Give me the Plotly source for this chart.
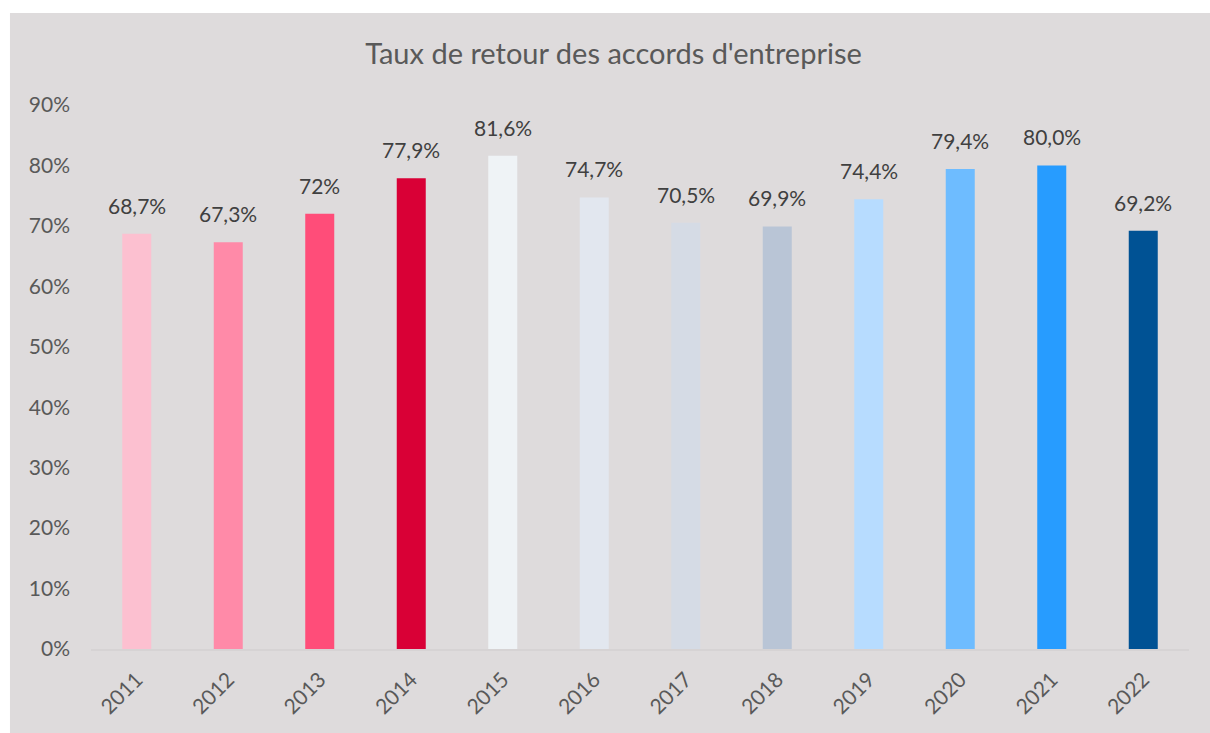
import plotly.graph_objects as go

years = ["2011", "2012", "2013", "2014", "2015", "2016", "2017", "2018", "2019", "2020", "2021", "2022"]
rates = [0.687, 0.673, 0.72, 0.779, 0.816, 0.747, 0.705, 0.699, 0.744, 0.794, 0.800, 0.692]
labels = ["68,7%", "67,3%", "72%", "77,9%", "81,6%", "74,7%", "70,5%", "69,9%", "74,4%", "79,4%", "80,0%", "69,2%"]
colors = ["#fcc0d0", "#ff8aa8", "#ff4d79", "#d90036", "#eff3f6", "#e2e7ef",
          "#d5dbe5", "#b9c5d6", "#b7dcff", "#6ebcff", "#279cff", "#005294"]
ytick_vals = [0, 0.1, 0.2, 0.3, 0.4, 0.5, 0.6, 0.7, 0.8, 0.9]
ytick_text = ["0%", "10%", "20%", "30%", "40%", "50%", "60%", "70%", "80%", "90%"]

FONT = "Lato"
BG = "#dedbdc"

fig = go.Figure()
fig.add_trace(go.Bar(x=years, y=rates, marker=dict(color=colors, line=dict(width=0)),
                     hoverinfo="skip"))

# category index positions for labels
for i, (v, t) in enumerate(zip(rates, labels)):
    fig.add_annotation(x=i, y=v, text=t, showarrow=False, yanchor="bottom",
                       yshift=14, font=dict(family=FONT, size=21, color="#404040"))

fig.add_shape(type="rect", xref="paper", yref="paper",
              x0=-0.0738, x1=1.05, y0=-0.3, y1=1.169,
              fillcolor=BG, line=dict(width=0), layer="below")

fig.update_layout(
    width=1210, height=733,
    paper_bgcolor="white", plot_bgcolor="rgba(0,0,0,0)",
    margin=dict(l=91, r=21, t=105, b=84),
    bargap=0.683,
    showlegend=False,
    title=dict(text="Taux de retour des accords d'entreprise", x=0.507, xref="container",
               xanchor="center", y=0.927, yanchor="middle",
               font=dict(family=FONT, size=29, color="#595959")),
    xaxis=dict(type="category", range=[-0.5, len(years) - 0.5], showgrid=False,
               showline=True, linecolor="#d6d3d4",
               linewidth=2, tickangle=-45, ticks="", ticklabelstandoff=8,
               tickfont=dict(family=FONT, size=21, color="#595959")),
    yaxis=dict(range=[0, 0.9], tickvals=ytick_vals, ticktext=ytick_text,
               showgrid=False, zeroline=False, showline=False, ticks="",
               ticklabelstandoff=20,
               tickfont=dict(family=FONT, size=21, color="#595959")),
)

fig.write_html("out.html", config={"displayModeBar": False},
               post_script="document.body.style.margin='0';")
